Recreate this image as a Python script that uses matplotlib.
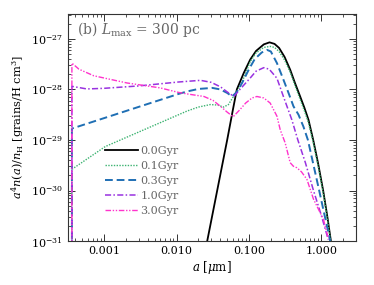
import matplotlib
matplotlib.use("Agg")
import matplotlib.pyplot as plt
from matplotlib.ticker import LogLocator, FuncFormatter, NullFormatter, FixedLocator

plt.rcParams['font.family'] = ['DejaVu Serif']
plt.rcParams['mathtext.fontset'] = 'dejavuserif'

A_MIN = 3.6e-4
FLOOR = 1e-34

labels = ["0.0Gyr", "0.1Gyr", "0.3Gyr", "1.0Gyr", "3.0Gyr"]

a_00 = [0.0265, 0.0364, 0.050, 0.060, 0.068, 0.085, 0.104, 0.125, 0.16, 0.192, 0.225, 0.26, 0.31, 0.37,
        0.43, 0.508, 0.58, 0.662, 0.769, 0.90, 1.055, 1.20, 1.35]
n_00 = [1.0e-31, 1.0e-30, 1.0e-29, 3.98e-29, 1.0e-28, 2.14e-28, 3.89e-28, 5.75e-28, 7.76e-28, 8.51e-28,
        7.94e-28, 6.61e-28, 4.37e-28, 2.45e-28, 1.35e-28, 7.24e-29, 4.37e-29, 2.51e-29, 1.0e-29,
        3.39e-30, 1.0e-30, 3.16e-31, 1.0e-31]

a_01 = [A_MIN, A_MIN, 1.04e-3, 0.0139, 0.020, 0.0292, 0.037, 0.0445, 0.052, 0.0611, 0.0757, 0.09, 0.104,
        0.125, 0.16, 0.196, 0.225, 0.26, 0.31, 0.37, 0.43, 0.508, 0.58, 0.662, 0.769, 0.90, 1.055, 1.20, 1.34]
n_01 = [FLOOR, 2.63e-30, 7.41e-30, 3.72e-29, 4.47e-29, 5.01e-29, 4.90e-29, 4.47e-29, 5.01e-29, 7.24e-29,
        1.15e-28, 2.09e-28, 3.55e-28, 5.25e-28, 6.76e-28, 7.08e-28, 6.76e-28, 5.62e-28, 3.80e-28,
        2.19e-28, 1.20e-28, 6.31e-29, 3.80e-29, 2.19e-29, 8.91e-30, 3.02e-30, 8.91e-31, 2.82e-31, 1.0e-31]

a_03 = [A_MIN, A_MIN, 0.01066, 0.01406, 0.020, 0.0311, 0.040, 0.050, 0.0586, 0.068, 0.0805, 0.10, 0.12,
        0.15, 0.178, 0.20, 0.243, 0.299, 0.351, 0.411, 0.482, 0.565, 0.65, 0.93, 1.32]
n_03 = [FLOOR, 1.68e-29, 8.13e-29, 9.12e-29, 1.02e-28, 1.07e-28, 1.0e-28, 8.51e-29, 7.24e-29, 8.91e-29,
        1.35e-28, 2.51e-28, 3.98e-28, 5.37e-28, 6.03e-28, 5.62e-28, 3.31e-28, 1.55e-28, 8.51e-29,
        4.62e-29, 3.16e-29, 1.82e-29, 1.0e-29, 1.0e-30, 1.0e-31]

a_10 = [A_MIN, A_MIN, 5.8e-4, 1.0e-3, 3.0e-3, 0.01066, 0.0214, 0.030, 0.0405, 0.050, 0.0619, 0.075, 0.104,
        0.125, 0.160, 0.19, 0.243, 0.30, 0.39, 0.472, 0.60, 0.776, 1.0, 1.24]
n_10 = [FLOOR, 1.15e-28, 1.02e-28, 1.05e-28, 1.17e-28, 1.40e-28, 1.51e-28, 1.38e-28, 1.12e-28, 8.91e-29,
        7.24e-29, 1.0e-28, 1.68e-28, 2.29e-28, 2.69e-28, 2.51e-28, 1.66e-28, 7.08e-29, 2.51e-29,
        1.0e-29, 3.55e-30, 1.0e-30, 3.16e-31, 1.07e-31]

a_30 = [A_MIN, A_MIN, 4.5e-4, 7.2e-4, 2.07e-3, 5.96e-3, 0.01066, 0.01406, 0.0239, 0.032, 0.0405, 0.050,
        0.0605, 0.075, 0.09, 0.11, 0.1285, 0.16, 0.196, 0.243, 0.27, 0.316, 0.37, 0.41, 0.458, 0.53,
        0.63, 0.776, 1.065, 1.25]
n_30 = [FLOOR, 3.31e-28, 2.51e-28, 1.86e-28, 1.34e-28, 1.07e-28, 8.71e-29, 8.13e-29, 7.24e-29, 6.03e-29,
        4.62e-29, 3.55e-29, 2.88e-29, 3.98e-29, 5.37e-29, 6.76e-29, 7.24e-29, 6.76e-29, 5.37e-29,
        2.95e-29, 1.58e-29, 8.71e-30, 3.55e-30, 3.02e-30, 2.82e-30, 2.34e-30, 1.66e-30, 6.76e-31,
        2.69e-31, 1.10e-31]

series = [(a_00, n_00), (a_01, n_01), (a_03, n_03), (a_10, n_10), (a_30, n_30)]
colors = ["black", "#3cb371", "#1f6fb4", "#9932e0", "#ff33cc"]
styles = ["-", (0, (1, 1)), (0, (4, 2)), (0, (4, 1.5, 1, 1.5)), (0, (4, 1.2, 1, 1.2, 1, 1.2))]
widths = [1.3, 1.0, 1.4, 1.1, 1.0]

fig = plt.figure(figsize=(3.74, 2.85), dpi=100)
ax = fig.add_axes([0.181, 0.154, 0.771, 0.797])

for (xa, yn), c, ls, lw, lab in zip(series, colors, styles, widths, labels):
    ax.plot(xa, yn, color=c, linestyle=ls, linewidth=lw, label=lab)

ax.set_xscale('log')
ax.set_yscale('log')
ax.set_xlim(3.15e-4, 3.0)
ax.set_ylim(1e-31, 3.1e-27)

xticks = [0.001, 0.01, 0.1, 1.0]
yticks = [1e-31, 1e-30, 1e-29, 1e-28, 1e-27]
ax.xaxis.set_major_locator(FixedLocator(xticks))
ax.xaxis.set_minor_locator(LogLocator(base=10, subs=range(2, 10), numticks=20))
ax.xaxis.set_major_formatter(FuncFormatter(lambda v, p: "%.3f" % v))
ax.xaxis.set_minor_formatter(NullFormatter())
ax.yaxis.set_major_locator(FixedLocator(yticks))
ax.yaxis.set_minor_locator(LogLocator(base=10, subs=range(2, 10), numticks=20))
ax.yaxis.set_minor_formatter(NullFormatter())

ax.tick_params(which='both', direction='in', top=True, right=True, colors='#333333', labelcolor='black', labelsize=8)
ax.tick_params(which='major', length=5, width=0.7)
ax.tick_params(which='minor', length=2.5, width=0.6)
for s in ax.spines.values():
    s.set_color('#333333')
    s.set_linewidth(0.8)

ax.set_xlabel(r"$a$ [$\mu$m]", fontsize=8.5, labelpad=2)
ax.set_ylabel(r"$a^4n(a)/n_{\rm H}$ [grains/H cm$^3$]", fontsize=8.2, labelpad=3)

ax.text(0.032, 0.975, r"(b) $L_{\rm max}$ = 300 pc", transform=ax.transAxes,
        ha='left', va='top', fontsize=10, color='#666666')

leg = ax.legend(loc='upper left', bbox_to_anchor=(0.115, 0.44), frameon=False,
                fontsize=8, handlelength=2.9, handletextpad=0.25, labelspacing=0.46,
                borderaxespad=0.0)
for t in leg.get_texts():
    t.set_color('#666666')

fig.savefig("out.png", dpi=100)
